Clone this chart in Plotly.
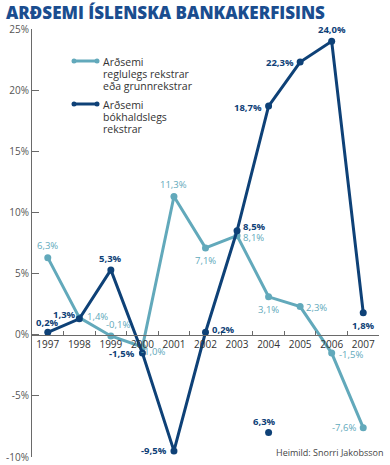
import plotly.graph_objects as go

years = ["1997", "1998", "1999", "2000", "2001", "2002", "2003", "2004", "2005", "2006", "2007"]
reglulegs = [6.3, 1.4, -0.1, -1.0, 11.3, 7.1, 8.1, 3.1, 2.3, -1.5, -7.6]
bokhalds = [0.2, 1.3, 5.3, -1.5, -9.5, 0.2, 8.5, 18.7, 22.3, 24.0, 1.8]
stray_year = ["2004"]
stray_value = [-8.0]
stray_label = ["6,3%"]
y_ticks = [-10, -5, 0, 5, 10, 15, 20, 25]
y_ticktext = ["-10%", "-5%", "0%", "5%", "10%", "15%", "20%", "25%"]

LIGHT = "#62a9bb"
DARK = "#0e4177"
GRAY = "#6a6a6a"
FONT = "Open Sans"
LBL = 9.5

# label placement per point: (xanchor, yanchor, xshift, yshift)
light_pos = [
    ("center", "bottom", 0, 4), ("left", "middle", 6, 1), ("left", "bottom", -7, 3),
    ("left", "middle", -3, -5), ("center", "bottom", 0, 4), ("center", "top", 0, -4),
    ("left", "middle", 4, -2), ("center", "top", 0, -4), ("left", "middle", 4, -1),
    ("left", "middle", 5, -1), ("right", "middle", -5, 0),
]
dark_pos = [
    ("center", "bottom", 0, 1), ("right", "middle", -1, 4), ("center", "bottom", 0, 3),
    ("right", "middle", -5, 0), ("right", "middle", -5, 0), ("left", "middle", 4, 3),
    ("left", "middle", 4, 4), ("right", "middle", -5, -1), ("right", "middle", -4, 0),
    ("center", "bottom", 0, 3), ("center", "top", 0, -4),
]

def fmt(v):
    return f"{v:.1f}".replace(".", ",") + "%"

fig = go.Figure()
fig.add_trace(go.Scatter(x=years, y=reglulegs, mode="lines+markers",
                         line=dict(color=LIGHT, width=3), marker=dict(color=LIGHT, size=7),
                         showlegend=False, cliponaxis=False))
fig.add_trace(go.Scatter(x=years, y=bokhalds, mode="lines+markers",
                         line=dict(color=DARK, width=3), marker=dict(color=DARK, size=7),
                         showlegend=False, cliponaxis=False))
fig.add_trace(go.Scatter(x=stray_year, y=stray_value, mode="markers",
                         marker=dict(color=DARK, size=7), showlegend=False, cliponaxis=False))

anns = []
for i, (v, (xa, ya, xs, ys)) in enumerate(zip(reglulegs, light_pos)):
    anns.append(dict(x=i, y=v, text=fmt(v), showarrow=False, xanchor=xa, yanchor=ya,
                     xshift=xs, yshift=ys, font=dict(family=FONT, size=LBL, color=LIGHT)))
for i, (v, (xa, ya, xs, ys)) in enumerate(zip(bokhalds, dark_pos)):
    anns.append(dict(x=i, y=v, text="<b>" + fmt(v) + "</b>", showarrow=False, xanchor=xa,
                     yanchor=ya, xshift=xs, yshift=ys, font=dict(family=FONT, size=LBL, color=DARK)))
for yr, v, t in zip(stray_year, stray_value, stray_label):
    anns.append(dict(x=years.index(yr), y=v, text="<b>" + t + "</b>", showarrow=False, xanchor="center",
                     yanchor="bottom", xshift=-4, yshift=3, font=dict(family=FONT, size=LBL, color=DARK)))

# pixel -> paper helpers
def px_x(p):
    return (p - 32) / 347
def px_y(p):
    return (457 - p) / 428

# title and source
anns.append(dict(xref="paper", yref="paper", x=px_x(4), y=px_y(12), xanchor="left", yanchor="middle",
                 text="ARÐSEMI ÍSLENSKA BANKAKERFISINS", showarrow=False,
                 font=dict(family=FONT, size=17, color="#1a4d8f", weight=800)))
anns.append(dict(xref="paper", yref="paper", x=px_x(385), y=px_y(452), xanchor="right", yanchor="middle",
                 text="Heimild: Snorri Jakobsson", showarrow=False,
                 font=dict(family=FONT, size=9, color="#444")))

shapes = []
leg = [(LIGHT, 61, ["Arðsemi", "reglulegs rekstrar", "eða grunnrekstrar"]),
       (DARK, 104, ["Arðsemi", "bókhaldslegs", "rekstrar"])]
for col, yy, lines in leg:
    shapes.append(dict(type="line", xref="paper", yref="paper", x0=px_x(74), x1=px_x(97),
                       y0=px_y(yy), y1=px_y(yy), line=dict(color=col, width=3)))
    for cx in (74, 97):
        shapes.append(dict(type="circle", xref="paper", yref="paper", x0=px_x(cx - 2.5), x1=px_x(cx + 2.5),
                           y0=px_y(yy + 2.5), y1=px_y(yy - 2.5), fillcolor=col, line=dict(color=col, width=0)))
    for k, ln in enumerate(lines):
        anns.append(dict(xref="paper", yref="paper", x=px_x(101), y=px_y(yy + 1 + 12 * k),
                         xanchor="left", yanchor="middle", text=ln, showarrow=False,
                         font=dict(family=FONT, size=10.5, color="#333")))

fig.update_layout(
    width=390, height=465,
    margin=dict(l=32, r=11, t=29, b=8),
    paper_bgcolor="white", plot_bgcolor="white",
    annotations=anns, shapes=shapes,
    xaxis=dict(type="category", range=[-0.5, 10.5], anchor="free", position=10/35,
               showline=True, linecolor=GRAY, linewidth=1, ticks="inside", ticklen=4,
               tickcolor=GRAY, tickson="boundaries", showgrid=False, zeroline=False,
               tickangle=0, automargin=False,
               tickfont=dict(family=FONT, size=10, color="#333")),
    yaxis=dict(range=[-10, 25], tickmode="array", tickvals=y_ticks, ticktext=y_ticktext,
               showline=True, automargin=False,
               linecolor=GRAY, linewidth=1, ticks="inside", ticklen=7, tickcolor=GRAY,
               showgrid=False, zeroline=False, tickfont=dict(family=FONT, size=10, color="#555")),
)

fig.write_html("out.html", config={"displayModeBar": False},
               post_script="document.body.style.margin='0';")
